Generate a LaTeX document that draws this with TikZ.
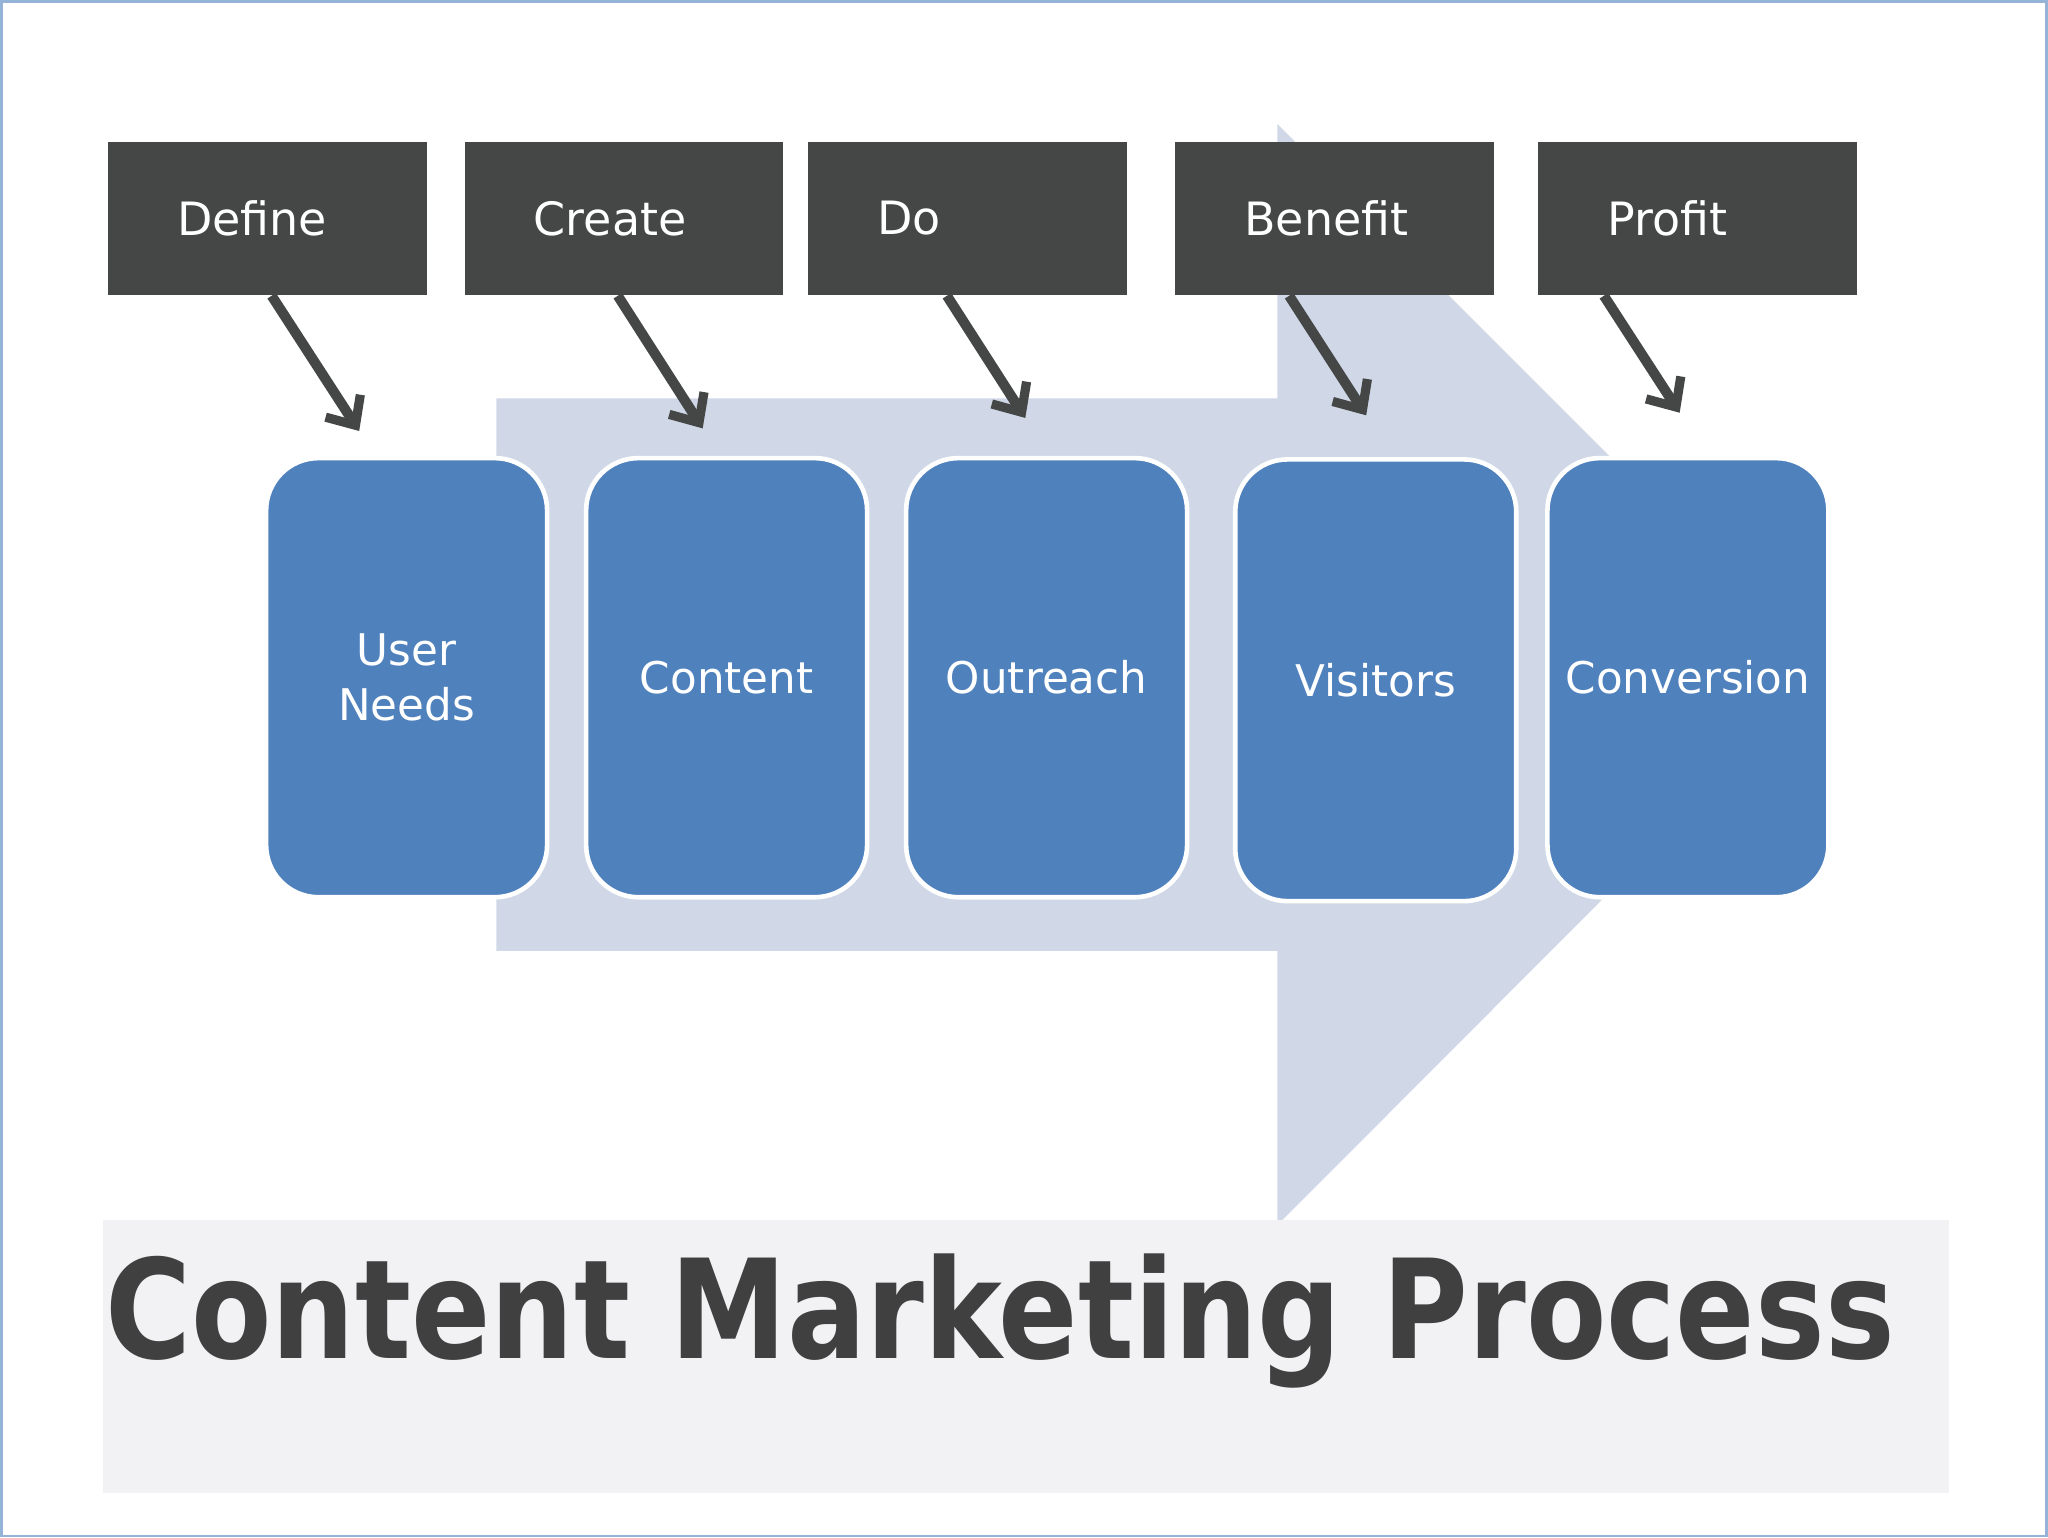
\documentclass[tikz,border=0pt]{standalone}
\usepackage{fontspec}
\setmainfont{DejaVu Sans}
\usetikzlibrary{arrows.meta}
\definecolor{dk}{HTML}{444746}
\definecolor{bl}{HTML}{4F81BD}
\definecolor{lb}{HTML}{D0D8E8}
\definecolor{tg}{HTML}{F2F2F4}
\definecolor{tt}{HTML}{404040}
\begin{document}
\begin{tikzpicture}[x=0.01cm,y=-0.01cm,
 top/.style={fill=dk,text=white,minimum width=2.44cm,minimum height=1.17cm,anchor=north west,inner sep=0pt,font=\fontsize{10}{12}\selectfont,text width=1.38cm,align=left},
 card/.style={fill=bl,draw=white,line width=1pt,rounded corners=0.4cm,minimum width=2.15cm,minimum height=3.36cm,anchor=north west,text=white,align=center,font=\fontsize{9.5}{12}\selectfont},
 arr/.style={draw=dk,line width=2.2pt,-{Straight Barb[length=5pt,width=9pt,line width=2pt]}}]
\useasboundingbox (0,0) rectangle (1568,1177);
\fill[white] (0,0) rectangle (1568,1177);
\draw[color=bl!60,line width=0.6pt] (1,1) rectangle (1567,1176);
\fill[lb] (380,305) -- (978,305) -- (978,95) -- (1399,516) -- (978,938) -- (978,728) -- (380,728) -- cycle;
\node[fill=tg,minimum width=14.13cm,minimum height=2.09cm,anchor=north west,inner sep=0pt] (tbox) at (78,933) {};
\node[anchor=base west,text=tt,inner sep=0pt,font=\bfseries\fontsize{30}{34}\selectfont] (title) at (80,1040) {\scalebox{0.85}[1]{Content Marketing Process}};
\foreach \n/\x/\t in {d/82/Define,c/355/Create,o/618/Do,b/899/Benefit,p/1177/Profit}
  \node[top] (\n) at (\x,108) {\t};
\node[card] (u) at (202,349) {User\\Needs};
\node[card] (co) at (447,349) {Content};
\node[card] (ou) at (692,349) {Outreach};
\node[card,minimum height=3.38cm] (vi) at (944,350) {Visitors};
\node[card] (cv) at (1183,349) {Conversion};
\coordinate (e1) at (275,330); \coordinate (e2) at (538,328); \coordinate (e3) at (785,320);
\coordinate (e4) at (1046,318); \coordinate (e5) at (1286,316);
\draw[arr] (d.south west)++(126,0) -- (e1);
\draw[arr] (c.south west)++(118,0) -- (e2);
\draw[arr] (o.south west)++(107,0) -- (e3);
\draw[arr] (b.south west)++(88,0) -- (e4);
\draw[arr] (p.south west)++(51,0) -- (e5);
\end{tikzpicture}
\end{document}
